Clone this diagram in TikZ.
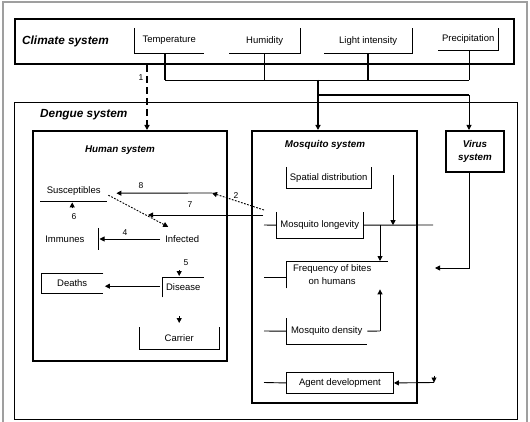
\documentclass[tikz,border=0pt]{standalone}
\usepackage{fontspec}
\setmainfont{Liberation Sans}
\usetikzlibrary{arrows.meta,calc}
\begin{document}
\begin{tikzpicture}[x=1pt,y=-1pt,
  thinl/.style={line width=0.9pt},
  heavy/.style={line width=2pt},
  tip/.style={-{Triangle[length=5pt,width=5pt]}},
  dots/.style={dash pattern=on 1.8pt off 1.4pt},
  lbl/.style={font=\fontsize{9.5}{13}\selectfont, inner sep=0pt},
  ttl/.style={font=\fontsize{11.8}{13}\selectfont\bfseries\itshape, inner sep=0pt},
  sub/.style={font=\fontsize{9.8}{13}\selectfont\bfseries\itshape, inner sep=0pt},
  num/.style={font=\fontsize{8.5}{9}\selectfont, inner sep=0pt},
  ]
\useasboundingbox (0,0) rectangle (530,422);
% outer gray frame
\draw[gray!75, line width=2.5pt] (3,422) -- (3,2.5);
\draw[gray!75, line width=2.5pt] (527,422) -- (527,2.5);
\draw[gray!75, line width=1.2pt] (2,2) -- (528,2);

% climate system
\node[draw, heavy, inner sep=0pt, minimum width=499pt, minimum height=45pt, anchor=north west] (climate) at (14,18) {};
\node[ttl, anchor=west] (climlbl) at (22,41) {Climate system};
\node[lbl, minimum width=70pt, minimum height=25pt, anchor=north west] (temp) at (134,28) {Temperature};
\draw[thinl] (temp.north west) -- (temp.south west) -- (temp.south east);
\node[lbl, minimum width=71pt, minimum height=25pt, anchor=north west] (hum) at (229,28) {Humidity};
\draw[thinl] (hum.south west) -- (hum.south east) -- (hum.north east);
\node[lbl, minimum width=88pt, minimum height=25pt, anchor=north west] (light) at (324,28) {Light intensity};
\draw[thinl] (light.south west) -- (light.south east) -- (light.north east);
\node[lbl, minimum width=60pt, minimum height=22pt, anchor=north west] (prec) at (438,28) {Precipitation};
\draw[thinl] (prec.south west) -- (prec.south east) -- (prec.north east);

% bus lines
\coordinate (busL) at (165,80);
\coordinate (busR) at (469,80);
\coordinate (j1) at (318,80);
\coordinate (j2) at (318,95);
\coordinate (j3) at (469,95);
\draw[heavy] (temp.south -| busL) -- (busL);
\draw[thinl] (hum.south) -- (hum.south |- busL);
\draw[heavy] (light.south) -- (light.south |- busL);
\draw[thinl] (prec.south -| busR) -- (busR);
\draw[thinl] (busL) -- (busR);

% dengue system
\node[draw, thinl, inner sep=0pt, minimum width=503pt, minimum height=317pt, anchor=north west] (dengue) at (14,102) {};
\node[ttl, anchor=west] (denglbl) at (40,115) {Dengue system};

\node[draw, heavy, inner sep=0pt, minimum width=194pt, minimum height=230pt, anchor=north west] (human) at (32,130) {};
\node[sub] (humlbl) at (120,150) {Human system};
\node[draw, heavy, inner sep=0pt, minimum width=165pt, minimum height=272pt, anchor=north west] (mosq) at (251,130) {};
\node[sub] (mosqlbl) at (325,145) {Mosquito system};
\node[draw, heavy, sub, align=center, minimum width=58pt, minimum height=41pt, anchor=north west] (virus) at (445,130) {Virus\\system};

\draw[heavy] (j1) -- (j2) -- (j3);
\draw[heavy, tip] (j2) -- (j2 |- mosq.north);
\draw[thinl, tip] (j3) -- (j3 |- virus.north);

% dashed arrow 1
\coordinate (d1) at (147,63);
\draw[heavy, dash pattern=on 7pt off 4pt, tip] (climate.south -| d1) -- (human.north -| d1);
\node[num] (n1) at (141,78) {1};

% human system
\node[lbl, minimum width=67pt, minimum height=20pt, anchor=north west] (sus) at (40,181) {Susceptibles};
\draw[thinl] (sus.south west) -- (sus.south east);
\draw[thinl, tip] ($(sus.south)+(-1.5,7)$) -- ($(sus.south)+(-1.5,1)$);
\node[num] (n6) at (74,217) {6};

\node[lbl, minimum width=66pt, minimum height=22pt, anchor=north east] (imm) at (98,228) {Immunes};
\draw[thinl] (imm.north east) -- (imm.south east);
\node[lbl, minimum width=44pt, minimum height=14pt, anchor=west] (inf) at (160,239) {Infected};
\draw[thinl, tip] (inf.west) -- ($(inf.west -| imm.east)+(1.5,0)$);
\node[num] (n4) at (125,233) {4};

\draw[thinl, dots, tip] ($(sus.east)+(1,4)$) -- ($(inf.north)+(-14,-5)$);

\coordinate (p8) at (212,193);
\coordinate (p2) at (264,210);
\coordinate (p7) at (263,215);
\coordinate (p7e) at (148,215);
\draw[thinl, tip] (p8) -- ($(sus.east)+(9,2)$);
\node[num] (n8) at (141,186) {8};
\draw[thinl, dots, tip] (p2) -- (p8);
\node[num] (n2) at (236,196) {2};
\draw[thinl, tip] (p7) -- (p7e);
\node[num] (n7) at (190,205) {7};

\node[lbl, minimum width=62pt, minimum height=20pt, anchor=north west] (deaths) at (41,273) {Deaths};
\draw[thinl] (deaths.north east) -- (deaths.north west) -- (deaths.south west) -- (deaths.south east);
\node[lbl, minimum width=42pt, minimum height=20pt, anchor=north west] (dis) at (162,277) {Disease};
\draw[thinl] (dis.south west) -- (dis.north west) -- (dis.north east);
\draw[thinl, tip] ($(dis.west)+(-2,-1)$) -- ($(dis.west -| deaths.east)+(1.5,-1)$);
\draw[thinl, tip] ($(dis.north)+(-4,-7)$) -- ($(dis.north)+(-4,-1)$);
\node[num] (n5) at (186,263) {5};
\node[lbl, minimum width=80pt, minimum height=22pt, anchor=north west] (car) at (139,327) {Carrier};
\draw[thinl] (car.north west) -- (car.south west) -- (car.south east) -- (car.north east);
\draw[thinl, tip] ($(car.north)+(0,-11)$) -- ($(car.north)+(0,-4)$);

% mosquito system
\node[lbl, minimum width=85pt, minimum height=21pt, anchor=north west] (spat) at (286,167) {Spatial distribution};
\draw[thinl] (spat.north west) -- (spat.south west) -- (spat.south east) -- (spat.north east);
\node[lbl, minimum width=87pt, minimum height=26pt, anchor=north west] (long) at (276,212) {Mosquito longevity};
\draw[thinl] (long.north west) -- (long.south west) -- (long.south east) -- (long.north east);
\coordinate (ls1) at (264,225);
\coordinate (lr) at (433,225);
\draw[thinl] (ls1) -- (long.west);
\draw[thinl] (long.east) -- (lr);
\coordinate (sa) at (393,175);
\draw[thinl, tip] (sa) -- (sa |- long.east);

\node[lbl, align=center, minimum width=92pt, minimum height=27pt, anchor=north west] (freq) at (286,261) {Frequency of bites\\on humans};
\draw[thinl] (freq.south west) -- (freq.north west) -- ($(freq.north west)+(102,0)$);
\coordinate (fa) at (380,225);
\draw[thinl, tip] (fa) -- (fa |- freq.north);
\coordinate (ls2) at (264,277);
\draw[thinl] (ls2) -- (ls2 -| freq.west);

\node[lbl, minimum width=81pt, minimum height=26pt, anchor=north west] (dens) at (286,318) {Mosquito density};
\draw[thinl] (dens.north west) -- (dens.south west) -- (dens.south east);
\coordinate (da) at (380,331);
\draw[thinl] (dens.east) -- (da);
\draw[thinl, tip] (da) -- ($(da |- freq.south)+(0,1)$);
\coordinate (ls3) at (264,331);
\draw[thinl] (ls3) -- (dens.west);

\node[draw, thinl, lbl, minimum width=107pt, minimum height=21pt, anchor=north west] (agent) at (286,372) {Agent development};
\coordinate (ls4) at (264,382.5);
\draw[thinl] (ls4) -- (agent.west);
\coordinate (ar) at (434,382.5);
\draw[thinl, tip] (ar) -- (agent.east);
\draw[thinl, tip] ($(ar)+(0,-7)$) -- (ar);

% virus link
\coordinate (vc) at (469,268);
\coordinate (ve) at (435,268);
\draw[thinl, tip] (virus.south -| vc) -- (vc) -- (ve);
\end{tikzpicture}
\end{document}
